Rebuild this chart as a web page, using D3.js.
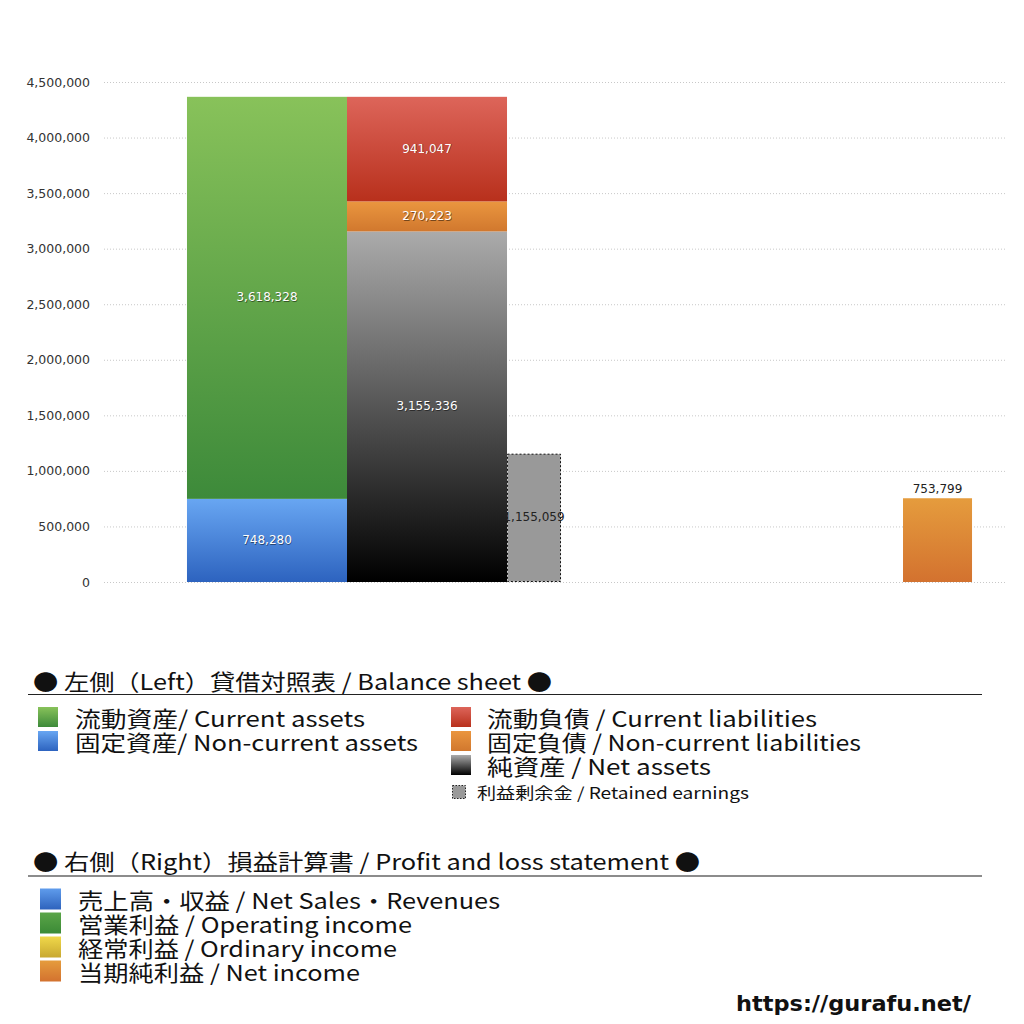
<!DOCTYPE html>
<html><head><meta charset="utf-8">
<script src="https://cdn.jsdelivr.net/npm/d3@7/dist/d3.min.js"></script>
<style>
body{margin:0;background:#fff;}
svg{display:block;}
</style></head>
<body><svg id="c" width="1024" height="1024"></svg>
<script>
// ---- data ----
const yTicks = [0, 500000, 1000000, 1500000, 2000000, 2500000, 3000000, 3500000, 4000000, 4500000];
const assetKeys = ["nonCurrentAssets", "currentAssets"];           // bottom -> top
const assetValues = [748280, 3618328];
const liabKeys = ["netAssets", "nonCurrentLiabilities", "currentLiabilities"]; // bottom -> top
const liabValues = [3155336, 270223, 941047];
const retainedEarnings = [1155059];
const plKeys = ["sales", "operating", "ordinary", "net"];
const plValues = [null, null, null, 753799];
const bsColumns = ["assets", "liabilities"];

const bsLegendLeft = ["流動資産/ Current assets", "固定資産/ Non-current assets"];
const bsLegendRight = ["流動負債 /  Current liabilities", "固定負債 / Non-current liabilities", "純資産 / Net assets"];
const retainedLabel = "利益剰余金 / Retained earnings";
const plLegend = ["売上高・収益 / Net Sales・Revenues", "営業利益 / Operating income", "経常利益 / Ordinary income", "当期純利益 / Net income"];
const bsTitle = "● 左側（Left）貸借対照表 / Balance sheet ●";
const plTitle = "● 右側（Right）損益計算書 / Profit and loss statement ●";

// ---- styles ----
const grad = {
  currentAssets: ["#88c25a", "#3d8a3a"],
  nonCurrentAssets: ["#68a6f2", "#2d63bf"],
  currentLiabilities: ["#dd655a", "#b8301c"],
  nonCurrentLiabilities: ["#ea963f", "#d1782e"],
  netAssets: ["#ababab", "#000000"],
  sales: ["#5f9cec", "#2e63bd"],
  operating: ["#5aa548", "#3b8a36"],
  ordinary: ["#f0d84a", "#c8a830"],
  net: ["#e59c3d", "#d3722f"]
};

const svg = d3.select("#c");
const defs = svg.append("defs");
Object.entries(grad).forEach(([k, [a, b]]) => {
  const g = defs.append("linearGradient").attr("id", "g_" + k)
    .attr("x1", 0).attr("y1", 0).attr("x2", 0).attr("y2", 1);
  g.append("stop").attr("offset", "0%").attr("stop-color", a);
  g.append("stop").attr("offset", "100%").attr("stop-color", b);
});

const plotL = 104, plotR = 1005;
const y = d3.scaleLinear().domain([0, 4500000]).range([582, 82]);

// x layout
const xOuter = d3.scaleLinear().domain([0, 1]).range([plotL, plotR]);
const xBS = d3.scaleBand().domain(bsColumns).range([xOuter(0.0921), xOuter(0.4473)]).padding(0);
const xPL = d3.scaleBand().domain(plKeys).range([xOuter(0.657), xOuter(0.9634)]).padding(0);

const numFont = "'DejaVu Sans', Verdana, sans-serif";

// grid + axis
const axis = d3.axisLeft(y).tickValues(yTicks).tickFormat(d3.format(",")).tickSize(0).tickPadding(14);
const gAxis = svg.append("g").attr("transform", `translate(${plotL},0)`).call(axis);
gAxis.select(".domain").remove();
gAxis.selectAll("text").attr("font-family", numFont)
  .attr("font-size", 12.5).attr("fill", "#333");
svg.append("g").selectAll("line").data(yTicks).join("line")
  .attr("x1", plotL).attr("x2", plotR)
  .attr("y1", d => y(d) + 0.5).attr("y2", d => y(d) + 0.5)
  .attr("stroke", "#c8c8c8").attr("stroke-width", 1).attr("stroke-dasharray", "1,2");

function stackOf(keys, vals) {
  let acc = 0;
  return keys.map((k, i) => { const s = { key: k, v: vals[i], y0: acc, y1: acc + vals[i] }; acc += vals[i]; return s; });
}
function drawStack(col, segs) {
  const g = svg.append("g");
  g.selectAll("rect").data(segs).join("rect")
    .attr("x", xBS(col)).attr("width", xBS.bandwidth())
    .attr("y", d => y(d.y1)).attr("height", d => y(d.y0) - y(d.y1))
    .attr("fill", d => `url(#g_${d.key})`);
}
const assetSegs = stackOf(assetKeys, assetValues);
const liabSegs = stackOf(liabKeys, liabValues);

// retained earnings (drawn before the stacks so its label tucks under the net assets bar)
const reX = xBS.range()[1];
const reW = xBS.bandwidth() * 0.3375;
svg.append("g").selectAll("rect").data(retainedEarnings).join("rect")
  .attr("x", reX + 0.5).attr("width", reW - 1)
  .attr("y", d => y(d) + 0.5).attr("height", d => y(0) - y(d) - 1)
  .attr("fill", "#999999").attr("stroke", "#111").attr("stroke-width", 1).attr("stroke-dasharray", "2,2");
const fmt = d3.format(",");
retainedEarnings.forEach(v => {
  svg.append("text").attr("x", reX + reW / 2).attr("y", y(v / 2)).attr("text-anchor", "middle")
    .attr("dominant-baseline", "middle").attr("font-family", numFont).attr("font-size", 12)
    .attr("fill", "#222").text(fmt(v));
});

drawStack("assets", assetSegs);
drawStack("liabilities", liabSegs);

// PL bars
const plData = plKeys.map((k, i) => ({ key: k, v: plValues[i] })).filter(d => d.v != null);
svg.append("g").selectAll("rect").data(plData).join("rect")
  .attr("x", d => xPL(d.key)).attr("width", xPL.bandwidth())
  .attr("y", d => y(d.v)).attr("height", d => y(0) - y(d.v))
  .attr("fill", d => `url(#g_${d.key})`);

// labels
function whiteLabel(x, yy, t) {
  svg.append("text").attr("x", x + 0.7).attr("y", yy + 0.8).attr("text-anchor", "middle")
    .attr("dominant-baseline", "middle").attr("font-family", numFont).attr("font-size", 12)
    .attr("fill", "#000").attr("opacity", 0.45).text(t);
  svg.append("text").attr("x", x).attr("y", yy).attr("text-anchor", "middle")
    .attr("dominant-baseline", "middle").attr("font-family", numFont).attr("font-size", 12)
    .attr("fill", "#fff").text(t);
}
assetSegs.forEach(s => whiteLabel(xBS("assets") + xBS.bandwidth() / 2, y((s.y0 + s.y1) / 2), fmt(s.v)));
liabSegs.forEach(s => whiteLabel(xBS("liabilities") + xBS.bandwidth() / 2, y((s.y0 + s.y1) / 2), fmt(s.v)));
plData.forEach(d => {
  svg.append("text").attr("x", xPL(d.key) + xPL.bandwidth() / 2).attr("y", y(d.v) - 5)
    .attr("text-anchor", "middle").attr("font-family", numFont).attr("font-size", 12)
    .attr("fill", "#222").text(fmt(d.v));
});

// ---- legend ----
const lf = "'Noto Sans CJK JP', 'Noto Sans', sans-serif";
function legText(x, yy, t, size, len) {
  const e = svg.append("text").attr("x", x).attr("y", yy).attr("dominant-baseline", "central")
    .attr("font-family", lf).attr("font-size", size).attr("fill", "#111").text(t);
  if (len) e.attr("textLength", len).attr("lengthAdjust", "spacingAndGlyphs");
  return e;
}
function swatch(x, yy, s, key) {
  svg.append("rect").attr("x", x).attr("y", yy - s / 2).attr("width", s).attr("height", s)
    .attr("fill", `url(#g_${key})`);
}
legText(33, 680, bsTitle, 22, 519);
svg.append("line").attr("x1", 28).attr("x2", 982).attr("y1", 694.5).attr("y2", 694.5).attr("stroke", "#222");

const leftKeys = ["currentAssets", "nonCurrentAssets"];
const leftLens = [290, 343];
bsLegendLeft.forEach((t, i) => { swatch(38, 717 + i * 24, 20, leftKeys[i]); legText(75, 717 + i * 24, t, 22, leftLens[i]); });
const rightKeys = ["currentLiabilities", "nonCurrentLiabilities", "netAssets"];
const rightLens = [330, 374, 224];
bsLegendRight.forEach((t, i) => { swatch(451, 717 + i * 24, 20, rightKeys[i]); legText(487, 717 + i * 24, t, 22, rightLens[i]); });
svg.append("rect").attr("x", 452.5).attr("y", 785.5).attr("width", 13).attr("height", 13)
  .attr("fill", "#999").attr("stroke", "#222").attr("stroke-dasharray", "1.5,1.5");
legText(477, 792, retainedLabel, 16, 272);

legText(33, 860, plTitle, 22, 667);
svg.append("line").attr("x1", 28).attr("x2", 982).attr("y1", 876).attr("y2", 876).attr("stroke", "#666").attr("stroke-width", 1.5);
const plLens = [422, 334, 319, 282];
plLegend.forEach((t, i) => { swatch(40, 899 + i * 24, 21, plKeys[i]); legText(78, 899 + i * 24, t, 22, plLens[i]); });

svg.append("text").attr("x", 736).attr("y", 1004).attr("dominant-baseline", "central")
  .attr("font-family", "'DejaVu Sans', sans-serif").attr("font-weight", "bold").attr("font-size", 21)
  .attr("fill", "#111").attr("textLength", 235).attr("lengthAdjust", "spacingAndGlyphs").text("https://gurafu.net/");
</script>
</body></html>
